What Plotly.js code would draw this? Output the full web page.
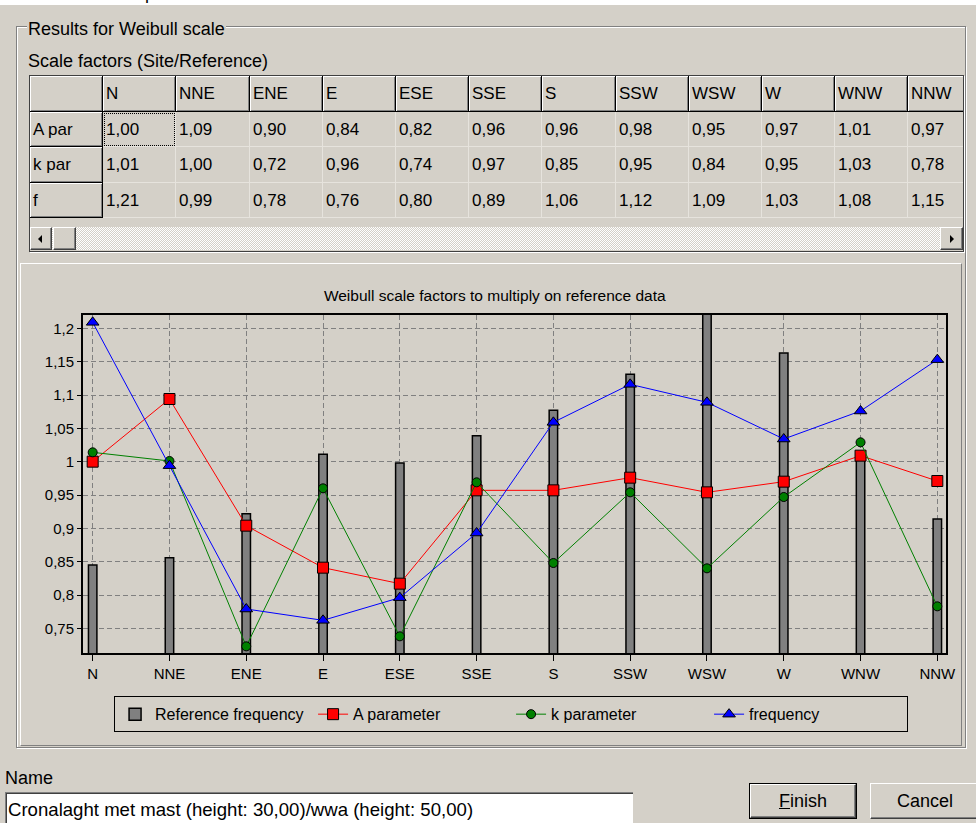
<!DOCTYPE html>
<html>
<head>
<meta charset="utf-8">
<script src="https://cdn.plot.ly/plotly-3.0.1.min.js"></script>
<style>
  html, body { margin:0; padding:0; }
  body { width:976px; height:823px; overflow:hidden; background:#d4d0c8; position:relative;
         font-family:"Liberation Sans", Arial, sans-serif; color:#000; }
  .abs { position:absolute; box-sizing:border-box; }
  .hdr { background:#d4d0c8; border-right:1px solid #000; border-bottom:1px solid #000;
         box-shadow: inset 1px 1px 0 #fff, inset -1px -1px 0 #808080; }
  .cell { background:#d4d0c8; border-right:1px solid #e6e3dd; border-bottom:1px solid #e6e3dd; }
  .txt { font-size:17px; padding-left:3px; white-space:nowrap; overflow:hidden; }
  .btn3d { background:#d4d0c8; border-top:1px solid #fff; border-left:1px solid #fff;
           border-right:1px solid #404040; border-bottom:1px solid #404040;
           box-shadow: inset -1px -1px 0 #808080; }
</style>
</head>
<body>
<!-- top strip (bottom edge of the dialog text above) -->
<div class="abs" style="left:0;top:0;width:976px;height:5px;background:#fff;overflow:hidden;">
  <div class="abs" style="left:40px;top:-17px;font-size:18px;line-height:20px;white-space:nowrap;">Here are the parameters to be used</div>
</div>

<!-- group box -->
<div class="abs" style="left:16px;top:26px;width:950px;height:722px;border:1px solid #808080;box-shadow: inset 1px 1px 0 #fff, 1px 1px 0 #fff;"></div>
<div class="abs" style="left:27px;top:19px;font-size:18px;line-height:20px;background:#d4d0c8;padding:0 1px;">Results for Weibull scale</div>
<div class="abs" style="left:28px;top:51px;font-size:18px;line-height:20px;">Scale factors (Site/Reference)</div>

<!-- table -->
<div id="tbl" class="abs" style="left:29px;top:75px;width:935px;height:177px;border:1px solid #404040;box-shadow:1px 1px 0 #fff;overflow:hidden;"></div>

<!-- chart panel -->
<div class="abs" style="left:20px;top:263px;width:942px;height:483px;border-top:1px solid #fff;border-left:1px solid #fff;border-right:1px solid #808080;border-bottom:1px solid #808080;"></div>
<div id="chart" class="abs" style="left:20px;top:263px;width:942px;height:483px;"></div>

<!-- name -->
<div class="abs" style="left:5px;top:768px;font-size:18px;line-height:20px;">Name</div>
<div class="abs" style="left:5px;top:792px;width:628px;height:40px;background:#fff;border-top:1px solid #808080;border-left:1px solid #808080;box-shadow: inset 1px 1px 0 #404040;">
  <div class="abs" style="left:2px;top:7px;font-size:18.6px;line-height:20px;white-space:nowrap;">Cronalaght met mast (height: 30,00)/wwa (height: 50,00)</div>
</div>

<!-- buttons -->
<div class="abs" style="left:749px;top:783px;width:108px;height:36px;border:1px solid #000;">
  <div class="abs btn3d" style="left:0;top:0;width:106px;height:34px;font-size:18px;line-height:32px;text-align:center;"><u>F</u>inish</div>
</div>
<div class="abs btn3d" style="left:870px;top:783px;width:110px;height:36px;font-size:18px;line-height:34px;text-align:center;">Cancel</div>

<script>
// ---------------- data ----------------
const directions = ['N','NNE','ENE','E','ESE','SSE','S','SSW','WSW','W','WNW','NNW'];
const rowLabels = ['A par','k par','f'];
const refFrequency = [0.845,0.856,0.922,1.011,0.998,1.039,1.077,1.131,1.24,1.163,1.012,0.914];
const aParameter   = [1.000,1.094,0.904,0.841,0.817,0.957,0.957,0.976,0.954,0.970,1.009,0.971];
const kParameter   = [1.014,1.001,0.723,0.960,0.738,0.969,0.848,0.954,0.840,0.947,1.029,0.783];
const frequency    = [1.209,0.994,0.779,0.762,0.796,0.893,1.059,1.116,1.089,1.034,1.076,1.153];
const chartTitle = 'Weibull scale factors to multiply on reference data';
const seriesNames = ['Reference frequency','A parameter','k parameter','frequency'];

// ---------------- table ----------------
(function buildTable(){
  const tbl = document.getElementById('tbl');
  const colW = 73.2;
  const rowTops = [0,36,71,107,142];
  const fmt = v => v.toFixed(2).replace('.', ',');
  const rows = [aParameter, kParameter, frequency];
  function add(cls, x, y, w, h, text, extra){
    const d = document.createElement('div');
    d.className = 'abs ' + cls;
    d.style.left = x + 'px'; d.style.top = y + 'px';
    d.style.width = w + 'px'; d.style.height = h + 'px';
    if (text !== undefined) {
      const t = document.createElement('div');
      t.className = 'txt';
      t.style.lineHeight = h + 'px';
      t.textContent = text;
      d.appendChild(t);
    }
    if (extra) Object.assign(d.style, extra);
    tbl.appendChild(d);
    return d;
  }
  for (let c = 0; c <= directions.length; c++) {
    const x = Math.round(colW * c), w = Math.round(colW * (c + 1)) - x;
    for (let r = 0; r < 4; r++) {
      const y = rowTops[r], h = rowTops[r + 1] - y;
      if (r === 0 && c === 0) add('hdr', x, y, w, h, '');
      else if (r === 0) add('hdr', x, y, w, h, directions[c - 1]);
      else if (c === 0) add('hdr', x, y, w, h, rowLabels[r - 1]);
      else add('cell', x, y, w, h, fmt(rows[r - 1][c - 1]));
    }
  }
  // focus rectangle
  add('', Math.round(colW) + 1, 37, Math.round(colW * 2) - Math.round(colW) - 2, 33, undefined,
      {border:'1px dotted #000'});
  // scrollbar
  add('', 0, 151, 933, 23, undefined, {
    backgroundImage:'repeating-conic-gradient(#ffffff 0 25%, #d4d0c8 0 50%)',
    backgroundSize:'2px 2px'});
  const lb = add('btn3d', 0, 151, 22, 23);
  lb.innerHTML = '<div class="abs" style="left:7px;top:7px;width:0;height:0;border-top:4px solid transparent;border-bottom:4px solid transparent;border-right:4px solid #000;"></div>';
  add('btn3d', 23, 151, 23, 23);
  const rb = add('btn3d', 910, 151, 23, 23);
  rb.innerHTML = '<div class="abs" style="left:9px;top:7px;width:0;height:0;border-top:4px solid transparent;border-bottom:4px solid transparent;border-left:4px solid #000;"></div>';
})();

// ---------------- chart ----------------
const xRange = [-0.126, 11.113];
const traces = [
  { type:'bar', name:seriesNames[0], x:directions, y:refFrequency, width:0.11,
    marker:{color:'#808080', line:{color:'#000', width:1.5}} },
  { type:'scatter', mode:'lines+markers', name:seriesNames[1], x:directions, y:aParameter,
    line:{color:'#ff0000', width:1}, cliponaxis:false,
    marker:{symbol:'square', size:11, color:'#ff0000', line:{color:'#000', width:1}} },
  { type:'scatter', mode:'lines+markers', name:seriesNames[2], x:directions, y:kParameter,
    line:{color:'#008000', width:1}, cliponaxis:false,
    marker:{symbol:'circle', size:9, color:'#008000', line:{color:'#000', width:1}} },
  { type:'scatter', mode:'lines+markers', name:seriesNames[3], x:directions, y:frequency,
    line:{color:'#0000ff', width:1}, cliponaxis:false,
    marker:{symbol:'triangle-up', size:11, color:'#0000ff', line:{color:'#000', width:1}} }
];
const layout = {
  width:942, height:483,
  margin:{l:63, r:16, t:52, b:93},
  paper_bgcolor:'rgba(0,0,0,0)', plot_bgcolor:'#d4d0c8',
  separators:', ',
  font:{family:'"Liberation Sans", Arial, sans-serif', size:15, color:'#000'},
  title:{text:chartTitle, font:{size:15.5, color:'#000'}, xref:'container', x:0.504,
         yref:'container', y:1 - 33/483, yanchor:'middle', xanchor:'center'},
  barmode:'overlay',
  xaxis:{type:'category', range:xRange, showgrid:true, gridcolor:'#808080', gridwidth:1,
         griddash:'5px,3px', ticks:'outside', ticklen:6, tickcolor:'#000', tickwidth:1,
         showline:true, linecolor:'#000', linewidth:2, mirror:true, fixedrange:true,
         tickfont:{size:15}},
  xaxis2:{type:'linear', overlaying:'x', anchor:'y', side:'bottom', range:xRange,
          tick0:0, dtick:0.25, ticks:'outside', ticklen:3, tickcolor:'#000', tickwidth:1,
          showticklabels:false, showgrid:false, zeroline:false, showline:false, fixedrange:true},
  yaxis:{range:[0.713, 1.22], tick0:0, dtick:0.05, ticks:'outside', ticklen:4, tickcolor:'#000',
         showgrid:true, gridcolor:'#808080', gridwidth:1, griddash:'5px,3px',
         showline:true, linecolor:'#000', linewidth:2, mirror:true, zeroline:false,
         fixedrange:true, tickfont:{size:15}},
  showlegend:true,
  legend:{orientation:'h', x:0.036, xanchor:'left', y:-0.128, yanchor:'top',
          bordercolor:'#000', borderwidth:1, bgcolor:'rgba(0,0,0,0)',
          font:{size:16, color:'#000'}, entrywidth:153, entrywidthmode:'pixels',
          traceorder:'normal', itemclick:false, itemdoubleclick:false}
};
Plotly.newPlot('chart', traces, layout, {displayModeBar:false, staticPlot:true});
</script>
</body>
</html>
